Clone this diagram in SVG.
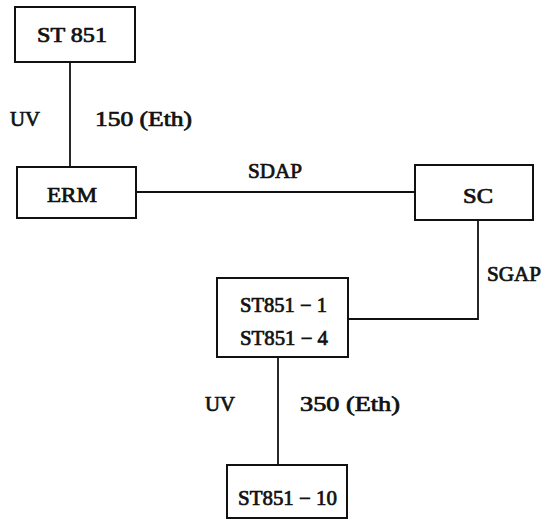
<svg xmlns="http://www.w3.org/2000/svg" width="553" height="519" viewBox="0 0 553 519">
<style>
.box{fill:#fff;stroke:#111;stroke-width:2}
.ln{fill:none;stroke:#111;stroke-width:1.8}
text{font-family:"Liberation Serif","Times New Roman",serif;font-weight:normal;font-size:20px;fill:#111;stroke:#111;stroke-width:0.7}
</style>
<rect width="553" height="519" fill="#fff"/>
<g id="connectors">
<line class="ln" x1="70" y1="62" x2="70" y2="167"/>
<line class="ln" x1="136" y1="192" x2="415" y2="192"/>
<polyline class="ln" points="478,220 478,319 348,319"/>
<line class="ln" x1="278" y1="357" x2="278" y2="465"/>
<text x="10" y="126" textLength="30" lengthAdjust="spacingAndGlyphs">UV</text>
<text x="95" y="126" textLength="97" lengthAdjust="spacingAndGlyphs">150 (Eth)</text>
<text x="248" y="178" textLength="54" lengthAdjust="spacingAndGlyphs">SDAP</text>
<text x="487" y="281" textLength="54" lengthAdjust="spacingAndGlyphs">SGAP</text>
<text x="205" y="411" textLength="30" lengthAdjust="spacingAndGlyphs">UV</text>
<text x="300" y="411" textLength="100" lengthAdjust="spacingAndGlyphs">350 (Eth)</text>
</g>
<g id="st851">
<rect class="box" x="15" y="7" width="120" height="55"/>
<text x="37" y="42" textLength="70" lengthAdjust="spacingAndGlyphs">ST 851</text>
</g>
<g id="erm">
<rect class="box" x="17" y="167" width="119" height="51"/>
<text x="47" y="202" textLength="50" lengthAdjust="spacingAndGlyphs">ERM</text>
</g>
<g id="sc">
<rect class="box" x="415" y="165" width="118" height="55"/>
<text x="463" y="203" textLength="30" lengthAdjust="spacingAndGlyphs">SC</text>
</g>
<g id="st851-1-4">
<rect class="box" x="217" y="278" width="131" height="79"/>
<text x="240" y="312" textLength="87" lengthAdjust="spacingAndGlyphs">ST851 − 1</text>
<text x="240" y="345" textLength="88" lengthAdjust="spacingAndGlyphs">ST851 − 4</text>
</g>
<g id="st851-10">
<rect class="box" x="227" y="465" width="120" height="53"/>
<text x="238" y="505" textLength="99" lengthAdjust="spacingAndGlyphs">ST851 − 10</text>
</g>
</svg>
